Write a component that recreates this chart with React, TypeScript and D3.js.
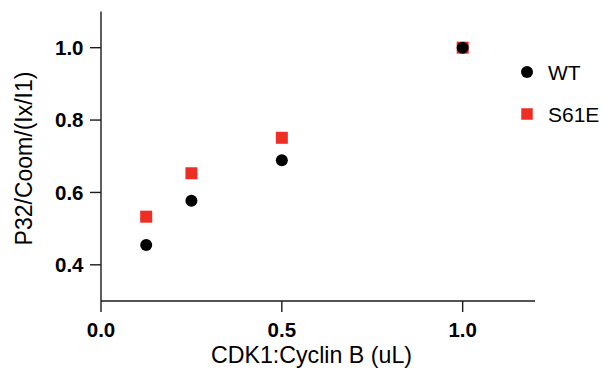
import React from "react";
import * as d3 from "d3";

const doses = [0.125, 0.25, 0.5, 1.0];
const wtValues = [0.455, 0.577, 0.689, 1.0];
const s61eValues = [0.533, 0.653, 0.751, 1.0];
const xTicks = [0.0, 0.5, 1.0];
const yTicks = [0.4, 0.6, 0.8, 1.0];
const seriesNames = ["WT", "S61E"];

const W = 606;
const H = 370;
const FONT = "'Liberation Sans', Arial, sans-serif";
const RED = "#EE2E24";

export default function App() {
  const x = d3.scaleLinear().domain([0, 1.2]).range([101, 535]);
  const y = d3.scaleLinear().domain([0.3, 1.1]).range([301, 11.5]);
  const fmt = d3.format(".1f");
  const sq = 12;
  const tick = 11;
  const axisColor = "#1a1a1a";

  return (
    <svg
      width={W}
      height={H}
      style={{ position: "absolute", left: 0, top: 0, background: "#fff" }}
      fontFamily={FONT}
    >
      {/* Axes */}
      <line x1={x(0)} x2={x(0)} y1={y(1.1)} y2={y(0.3)} stroke={axisColor} strokeWidth={1.4} />
      <line x1={x(0)} x2={x(1.2)} y1={y(0.3)} y2={y(0.3)} stroke={axisColor} strokeWidth={1.4} />
      {yTicks.map((t) => (
        <g key={"y" + t}>
          <line x1={x(0) - tick} x2={x(0)} y1={y(t)} y2={y(t)} stroke={axisColor} strokeWidth={1.4} />
          <text
            x={x(0) - tick - 6.5}
            y={y(t)}
            dy="0.36em"
            textAnchor="end"
            fontSize={20.5}
            fontWeight="bold"
            fill="#000"
          >
            {fmt(t)}
          </text>
        </g>
      ))}
      {xTicks.map((t) => (
        <g key={"x" + t}>
          <line x1={x(t)} x2={x(t)} y1={y(0.3)} y2={y(0.3) + tick} stroke={axisColor} strokeWidth={1.4} />
          <text
            x={x(t)}
            y={337}
            textAnchor="middle"
            fontSize={20.5}
            fontWeight="bold"
            fill="#000"
          >
            {fmt(t)}
          </text>
        </g>
      ))}
      {/* Axis titles */}
      <text x={311.5} y={363} textAnchor="middle" fontSize={23.2} fill="#000">
        CDK1:Cyclin B (uL)
      </text>
      <text
        transform={`translate(31.5,158.5) rotate(-90)`}
        textAnchor="middle"
        fontSize={23}
        fill="#000"
      >
        P32/Coom/(Ix/I1)
      </text>
      {/* S61E squares */}
      {doses.map((d, i) => (
        <rect
          key={"s" + i}
          x={x(d) - sq / 2}
          y={y(s61eValues[i]) - sq / 2}
          width={sq}
          height={sq}
          fill={RED}
        />
      ))}
      {/* WT circles */}
      {doses.map((d, i) => (
        <circle key={"w" + i} cx={x(d)} cy={y(wtValues[i])} r={6} fill="#000" />
      ))}
      {/* Legend */}
      <circle cx={527} cy={72} r={6} fill="#000" />
      <text x={548} y={80} fontSize={21} fill="#000">
        {seriesNames[0]}
      </text>
      <rect x={527 - 5.75} y={114 - 5.75} width={11.5} height={11.5} fill={RED} />
      <text x={548} y={121.5} fontSize={21} fill="#000">
        {seriesNames[1]}
      </text>
    </svg>
  );
}
